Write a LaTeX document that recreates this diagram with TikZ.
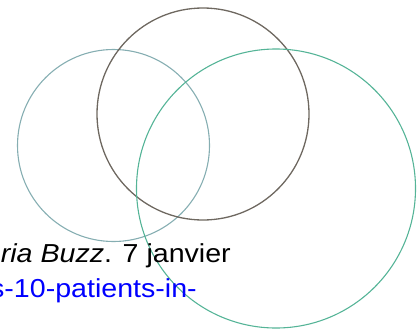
\documentclass[tikz,border=0pt]{standalone}
\usepackage{fontspec}
\setmainfont{Liberation Sans}
\definecolor{leftc}{HTML}{86AEB2}
\definecolor{midc}{HTML}{6E6860}
\definecolor{rightc}{HTML}{55B497}
\definecolor{linkc}{HTML}{0000FF}
\begin{document}
\begin{tikzpicture}[x=1pt,y=1pt,
  ring/.style={line width=1.1pt},
  txt/.style={inner sep=0pt,anchor=base east,font=\fontsize{26}{30}\selectfont}]
\useasboundingbox (0,0) rectangle (417,333);
\clip (0,0) rectangle (417,333);
\draw[ring,leftc] (113.5,187.5) circle (96);
\draw[ring,midc,line width=1.3pt] (203,219) circle (106);
\draw[ring,rightc] (276,144.5) circle (139.5);
\node[txt] (l1) at (231,71) {\scalebox{1.1}[1]{\textit{ria Buzz}. 7 janvier}};
\node[txt,text=linkc] (l2) at (197,36) {\scalebox{1.1}[1]{s-10-patients-in-}};
\end{tikzpicture}
\end{document}
